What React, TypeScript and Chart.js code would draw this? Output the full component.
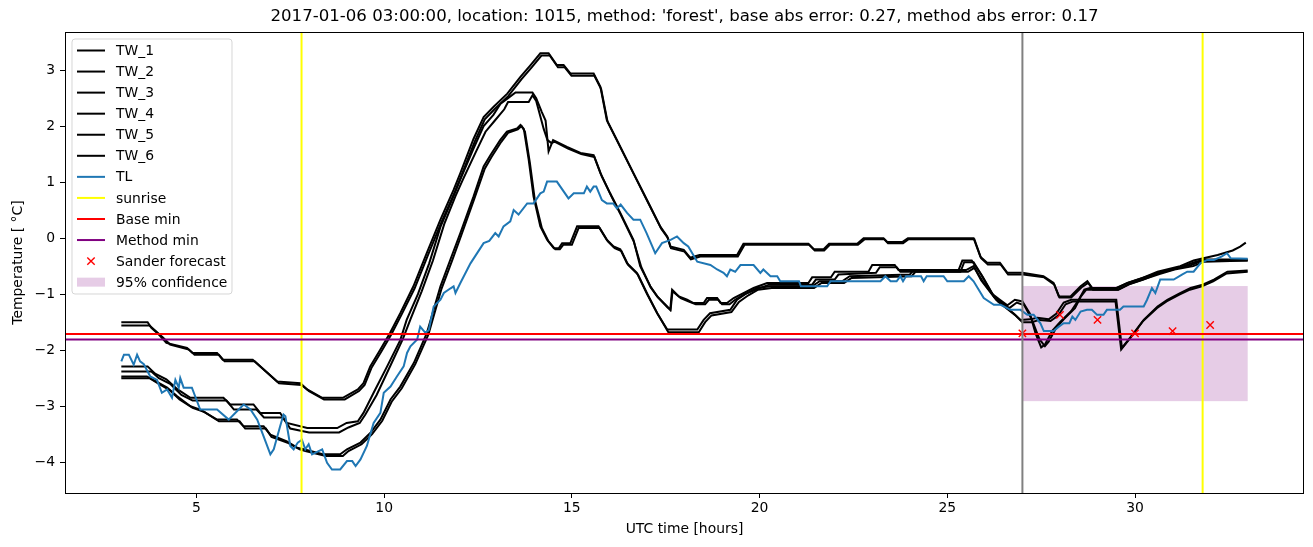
import React, { useEffect, useRef } from "react";
import { Chart, registerables } from "chart.js";

Chart.register(...registerables);

const TITLE =
  "2017-01-06 03:00:00, location: 1015, method: 'forest', base abs error: 0.27, method abs error: 0.17";
const X_LABEL = "UTC time [hours]";
const Y_LABEL = "Temperature [ °C]";
const X_TICKS = [5, 10, 15, 20, 25, 30];
const Y_TICKS = [-4, -3, -2, -1, 0, 1, 2, 3];
const X_RANGE = [1.5, 34.5];
const Y_RANGE = [-4.55, 3.68];

const TW_1: number[][] = [[3,-1.5],[3.7,-1.5],[3.8,-1.6],[4.0,-1.72],[4.2,-1.87],[4.75,-1.96],[4.9,-2.05],[5.55,-2.05],[5.7,-2.17],[6.5,-2.17],[6.7,-2.29],[7.15,-2.56],[7.77,-2.59],[7.95,-2.7],[8.35,-2.85],[8.9,-2.85],[9.3,-2.7],[9.45,-2.59],[9.63,-2.29],[9.9,-1.99],[10.16,-1.69],[10.43,-1.34],[10.78,-0.86],[11.14,-0.26],[11.5,0.33],[11.85,0.86],[12.03,1.16],[12.38,1.77],[12.65,2.16],[12.91,2.34],[13.28,2.58],[13.63,2.88],[13.9,3.09],[14.16,3.3],[14.38,3.3],[14.6,3.09],[14.78,3.09],[14.96,2.94],[15.58,2.94],[15.76,2.7],[15.93,2.11],[16.2,1.75],[16.64,1.16],[17.0,0.68],[17.36,0.2],[17.54,0.03],[17.62,-0.15],[17.98,-0.21],[18.15,-0.35],[18.4,-0.3],[19.4,-0.3],[19.57,-0.1],[21.3,-0.1],[21.45,-0.2],[21.7,-0.2],[21.85,-0.1],[22.6,-0.1],[22.77,0.0],[23.3,0.0],[23.4,-0.07],[23.8,-0.07],[23.95,0.0],[25.7,0.0],[25.88,-0.33],[26.06,-0.44],[26.4,-0.44],[26.6,-0.62],[27.0,-0.62],[27.56,-0.68],[27.83,-0.8],[27.97,-1.04],[28.28,-1.04],[28.55,-0.86],[28.73,-0.77],[28.86,-0.89],[29.53,-0.89],[29.8,-0.8],[30.2,-0.71],[30.6,-0.6],[31.2,-0.5],[31.56,-0.4],[32.2,-0.3],[32.6,-0.22],[32.8,-0.15],[32.95,-0.08]];
const TW_2: number[][] = [[3,-1.56],[3.75,-1.56],[3.9,-1.65],[4.1,-1.77],[4.3,-1.9],[4.8,-1.99],[4.95,-2.08],[5.6,-2.08],[5.75,-2.2],[6.55,-2.2],[6.75,-2.32],[7.2,-2.59],[7.8,-2.62],[8.0,-2.73],[8.4,-2.88],[8.95,-2.88],[9.33,-2.73],[9.48,-2.62],[9.66,-2.32],[9.93,-2.02],[10.19,-1.72],[10.46,-1.37],[10.81,-0.9],[11.17,-0.3],[11.53,0.29],[11.88,0.82],[12.06,1.12],[12.41,1.72],[12.68,2.12],[12.94,2.3],[13.31,2.54],[13.66,2.84],[13.93,3.05],[14.19,3.26],[14.41,3.26],[14.63,3.05],[14.81,3.05],[14.99,2.9],[15.6,2.9],[15.78,2.66],[15.95,2.08],[16.22,1.72],[16.66,1.13],[17.02,0.65],[17.38,0.17],[17.56,0.0],[17.64,-0.18],[18.0,-0.24],[18.17,-0.38],[18.42,-0.33],[19.42,-0.33],[19.6,-0.12],[21.32,-0.12],[21.47,-0.22],[21.72,-0.22],[21.87,-0.12],[22.62,-0.12],[22.8,-0.02],[23.32,-0.02],[23.42,-0.09],[23.82,-0.09],[23.97,-0.02],[25.72,-0.02],[25.9,-0.36],[26.08,-0.47],[26.42,-0.47],[26.62,-0.65],[27.02,-0.65],[27.58,-0.7],[27.85,-0.83],[27.99,-1.06],[28.3,-1.06],[28.57,-0.88],[28.75,-0.8],[28.88,-0.92],[29.55,-0.92],[29.82,-0.83],[30.22,-0.74],[30.62,-0.63],[31.22,-0.52],[31.58,-0.43],[31.85,-0.38],[33,-0.38]];
const TW_3: number[][] = [[3,-2.29],[3.7,-2.29],[3.9,-2.42],[4.2,-2.52],[4.5,-2.7],[4.84,-2.85],[5.72,-2.85],[5.9,-2.97],[6.52,-2.97],[6.7,-3.12],[7.23,-3.12],[7.41,-3.3],[7.95,-3.39],[8.75,-3.39],[9.0,-3.3],[9.3,-3.27],[9.45,-3.12],[9.72,-2.76],[10.08,-2.29],[10.43,-1.82],[10.6,-1.46],[10.9,-1.0],[11.2,-0.45],[11.5,0.2],[11.85,0.75],[12.03,1.05],[12.38,1.6],[12.65,2.0],[12.91,2.2],[13.1,2.4],[13.3,2.5],[13.5,2.6],[13.95,2.6],[14.05,2.5],[14.2,2.25],[14.3,2.1],[14.38,1.55],[14.5,1.75],[14.87,1.63],[15.23,1.52],[15.58,1.48],[15.76,1.16],[16.02,0.8],[16.29,0.45],[16.64,-0.03],[16.82,-0.5],[17.09,-0.86],[17.27,-1.04],[17.54,-1.22],[17.62,-1.28],[17.67,-0.92],[17.85,-1.04],[18.07,-1.1],[18.24,-1.16],[18.51,-1.16],[18.6,-1.07],[18.87,-1.07],[18.96,-1.16],[19.13,-1.16],[19.31,-1.07],[19.57,-0.98],[19.84,-0.89],[20.2,-0.8],[21.3,-0.8],[21.4,-0.7],[21.9,-0.7],[22.0,-0.6],[22.9,-0.6],[23.0,-0.48],[23.6,-0.48],[23.7,-0.57],[25.3,-0.57],[25.4,-0.4],[25.65,-0.4],[25.9,-0.65],[26.2,-1.0],[26.4,-1.1],[26.6,-1.2],[26.8,-1.1],[27.0,-1.13],[27.2,-1.35],[27.35,-1.7],[27.5,-1.95],[27.6,-1.9],[27.8,-1.65],[28.0,-1.5],[28.3,-1.3],[28.5,-1.1],[28.65,-0.92],[28.8,-0.89],[29.5,-0.89],[29.8,-0.8],[30.2,-0.71],[30.6,-0.62],[31.0,-0.55],[31.5,-0.48],[31.8,-0.4],[33,-0.4]];
const TW_4: number[][] = [[3,-2.38],[3.8,-2.38],[4.0,-2.5],[4.3,-2.6],[4.6,-2.8],[4.9,-2.9],[5.8,-2.9],[6.0,-3.06],[6.6,-3.06],[6.8,-3.2],[7.3,-3.2],[7.5,-3.4],[8.0,-3.47],[8.8,-3.47],[9.05,-3.38],[9.35,-3.3],[9.5,-3.15],[9.8,-2.8],[10.15,-2.3],[10.5,-1.8],[10.7,-1.45],[11.0,-0.95],[11.3,-0.4],[11.6,0.25],[11.9,0.75],[12.1,1.05],[12.45,1.55],[12.7,1.9],[12.95,2.1],[13.2,2.3],[13.3,2.43],[13.85,2.43],[13.95,2.55],[14.05,2.45],[14.25,1.95],[14.35,1.75],[14.45,1.7],[14.55,1.72],[14.9,1.6],[15.25,1.5],[15.6,1.45],[15.8,1.1],[16.05,0.75],[16.3,0.42],[16.65,-0.06],[16.85,-0.52],[17.1,-0.88],[17.3,-1.06],[17.55,-1.24],[17.63,-1.28],[17.68,-0.95],[17.9,-1.07],[18.1,-1.13],[18.3,-1.18],[18.55,-1.18],[18.65,-1.1],[18.9,-1.1],[19.0,-1.18],[19.2,-1.18],[19.35,-1.1],[19.6,-1.0],[19.9,-0.92],[20.25,-0.83],[21.4,-0.83],[21.5,-0.74],[22.0,-0.74],[22.1,-0.65],[23.1,-0.62],[23.2,-0.52],[23.65,-0.52],[23.75,-0.6],[25.35,-0.6],[25.45,-0.43],[25.7,-0.43],[25.95,-0.7],[26.25,-1.05],[26.45,-1.15],[26.65,-1.25],[26.85,-1.15],[27.05,-1.2],[27.25,-1.45],[27.45,-1.8],[27.6,-1.93],[27.7,-1.85],[27.9,-1.6],[28.1,-1.45],[28.4,-1.25],[28.55,-1.05],[28.7,-0.92],[28.85,-0.92],[29.55,-0.92],[29.85,-0.82],[30.25,-0.73],[30.65,-0.64],[31.05,-0.56],[31.55,-0.5],[31.85,-0.42],[33,-0.4]];
const TW_5: number[][] = [[3,-2.47],[3.68,-2.47],[3.9,-2.55],[4.22,-2.67],[4.48,-2.82],[4.84,-3.0],[5.1,-3.06],[5.55,-3.24],[6.08,-3.24],[6.26,-3.36],[6.79,-3.36],[6.97,-3.51],[7.41,-3.63],[7.68,-3.74],[7.86,-3.77],[8.39,-3.86],[8.83,-3.86],[9.01,-3.77],[9.37,-3.65],[9.63,-3.48],[9.9,-3.24],[10.17,-2.88],[10.43,-2.65],[10.79,-2.23],[11.14,-1.69],[11.5,-0.86],[11.76,-0.39],[12.03,0.09],[12.38,0.74],[12.65,1.28],[12.83,1.48],[13.09,1.75],[13.27,1.9],[13.54,1.96],[13.63,2.02],[13.72,1.95],[13.85,1.4],[13.98,0.74],[14.16,0.21],[14.34,-0.03],[14.52,-0.18],[14.65,-0.18],[14.74,-0.09],[14.96,-0.09],[15.14,0.21],[15.71,0.21],[15.93,-0.03],[16.11,-0.15],[16.29,-0.2],[16.47,-0.45],[16.73,-0.62],[16.99,-0.98],[17.27,-1.34],[17.54,-1.63],[18.34,-1.63],[18.51,-1.46],[18.68,-1.34],[19.22,-1.28],[19.4,-1.1],[19.67,-0.98],[19.93,-0.89],[20.29,-0.86],[21.4,-0.86],[21.6,-0.77],[22.2,-0.77],[22.4,-0.68],[24.0,-0.65],[24.1,-0.57],[25.5,-0.57],[25.7,-0.5],[25.9,-0.75],[26.3,-1.1],[26.76,-1.34],[26.95,-1.46],[27.2,-1.45],[27.4,-1.42],[27.7,-1.45],[27.9,-1.35],[28.1,-1.15],[28.3,-1.1],[29.5,-1.1],[29.65,-1.96],[29.97,-1.69],[30.23,-1.46],[30.6,-1.22],[30.86,-1.1],[31.2,-0.98],[31.48,-0.89],[31.8,-0.83],[32.1,-0.74],[32.46,-0.6],[33,-0.58]];
const TW_6: number[][] = [[3,-2.5],[3.75,-2.5],[4.0,-2.6],[4.3,-2.72],[4.55,-2.88],[4.9,-3.03],[5.2,-3.1],[5.6,-3.27],[6.15,-3.27],[6.3,-3.4],[6.85,-3.4],[7.0,-3.55],[7.45,-3.66],[7.75,-3.77],[7.9,-3.8],[8.45,-3.89],[8.9,-3.89],[9.05,-3.8],[9.4,-3.68],[9.68,-3.5],[9.95,-3.26],[10.2,-2.92],[10.47,-2.68],[10.83,-2.25],[11.18,-1.72],[11.53,-0.9],[11.8,-0.42],[12.06,0.06],[12.4,0.7],[12.68,1.24],[12.86,1.45],[13.12,1.72],[13.3,1.88],[13.56,1.94],[13.66,2.0],[13.75,1.9],[13.88,1.35],[14.01,0.7],[14.2,0.18],[14.38,-0.06],[14.56,-0.2],[14.68,-0.2],[14.77,-0.12],[15.0,-0.12],[15.18,0.18],[15.74,0.18],[15.96,-0.06],[16.14,-0.18],[16.32,-0.23],[16.5,-0.48],[16.76,-0.65],[17.02,-1.01],[17.3,-1.37],[17.57,-1.68],[18.38,-1.68],[18.55,-1.5],[18.72,-1.38],[19.25,-1.32],[19.45,-1.14],[19.7,-1.02],[19.96,-0.92],[20.32,-0.89],[21.45,-0.89],[21.65,-0.8],[22.25,-0.8],[22.45,-0.71],[24.05,-0.68],[24.15,-0.6],[25.55,-0.6],[25.72,-0.53],[25.95,-0.78],[26.35,-1.13],[26.8,-1.37],[27.0,-1.5],[27.25,-1.5],[27.45,-1.46],[27.75,-1.48],[27.95,-1.38],[28.15,-1.18],[28.35,-1.13],[29.48,-1.13],[29.63,-1.99],[29.95,-1.72],[30.2,-1.49],[30.58,-1.25],[30.84,-1.13],[31.18,-1.01],[31.46,-0.92],[31.78,-0.86],[32.08,-0.77],[32.44,-0.63],[33,-0.6]];
const TL: number[][] = [[3,-2.2],[3.07,-2.08],[3.2,-2.08],[3.33,-2.26],[3.42,-2.08],[3.5,-2.2],[3.6,-2.25],[3.77,-2.47],[3.95,-2.53],[4.08,-2.76],[4.22,-2.7],[4.35,-2.85],[4.44,-2.53],[4.53,-2.67],[4.57,-2.5],[4.66,-2.67],[4.88,-2.67],[5.1,-3.06],[5.55,-3.06],[5.86,-3.24],[6.08,-3.09],[6.26,-2.97],[6.44,-3.06],[6.62,-3.24],[6.79,-3.54],[6.97,-3.86],[7.06,-3.77],[7.23,-3.36],[7.32,-3.15],[7.37,-3.18],[7.5,-3.71],[7.59,-3.77],[7.7,-3.65],[7.81,-3.6],[7.9,-3.77],[7.99,-3.68],[8.08,-3.86],[8.35,-3.77],[8.48,-4.01],[8.61,-4.13],[8.83,-4.13],[9.01,-3.98],[9.15,-3.98],[9.24,-4.07],[9.37,-3.95],[9.54,-3.71],[9.72,-3.3],[9.9,-3.12],[9.99,-2.76],[10.17,-2.65],[10.34,-2.47],[10.52,-2.29],[10.61,-2.05],[10.7,-1.93],[10.88,-1.81],[10.96,-1.58],[11.1,-1.69],[11.19,-1.64],[11.32,-1.22],[11.41,-1.16],[11.5,-1.1],[11.59,-0.98],[11.76,-0.9],[11.85,-0.86],[11.9,-0.98],[12.03,-0.8],[12.3,-0.45],[12.65,-0.09],[12.8,-0.05],[12.96,0.09],[13.05,0.03],[13.18,0.21],[13.36,0.3],[13.45,0.5],[13.58,0.42],[13.81,0.62],[13.98,0.62],[14.16,0.8],[14.25,0.83],[14.34,1.01],[14.6,1.01],[14.91,0.71],[15.05,0.8],[15.32,0.8],[15.4,0.92],[15.49,0.83],[15.58,0.92],[15.65,0.92],[15.8,0.68],[15.93,0.62],[16.1,0.62],[16.2,0.53],[16.3,0.6],[16.47,0.45],[16.64,0.33],[16.82,0.33],[16.99,0.09],[17.22,-0.27],[17.4,-0.09],[17.63,-0.03],[17.8,0.03],[17.98,-0.09],[18.1,-0.15],[18.34,-0.42],[18.69,-0.48],[18.87,-0.56],[19.04,-0.62],[19.13,-0.68],[19.22,-0.56],[19.35,-0.6],[19.49,-0.48],[19.84,-0.48],[20.02,-0.62],[20.1,-0.56],[20.29,-0.68],[20.47,-0.68],[20.55,-0.77],[21.05,-0.77],[21.1,-0.86],[21.8,-0.86],[21.89,-0.77],[23.22,-0.77],[23.35,-0.68],[23.49,-0.77],[23.65,-0.77],[23.75,-0.68],[23.82,-0.77],[23.9,-0.68],[24.3,-0.68],[24.37,-0.77],[24.45,-0.68],[24.9,-0.68],[25.0,-0.77],[25.44,-0.77],[25.57,-0.68],[25.7,-0.77],[25.97,-1.07],[26.24,-1.19],[26.42,-1.19],[26.68,-1.28],[26.95,-1.28],[27.13,-1.37],[27.3,-1.37],[27.48,-1.52],[27.57,-1.66],[27.83,-1.66],[27.97,-1.58],[28.1,-1.52],[28.25,-1.52],[28.33,-1.4],[28.41,-1.46],[28.55,-1.31],[28.72,-1.28],[28.85,-1.28],[28.99,-1.37],[29.16,-1.37],[29.25,-1.28],[29.6,-1.28],[29.69,-1.22],[30.23,-1.22],[30.32,-1.1],[30.45,-0.89],[30.54,-0.98],[30.67,-0.74],[31.03,-0.74],[31.25,-0.65],[31.39,-0.6],[31.56,-0.6],[31.74,-0.45],[31.92,-0.39],[32.1,-0.39],[32.3,-0.33],[32.45,-0.27],[32.55,-0.36],[33,-0.37]];

const SUNRISE = [7.8, 31.8];
const BASE_MIN = -1.71;
const METHOD_MIN = -1.81;
const FORECAST_START = 27;
const SANDER_X = [27, 28, 29, 30, 31, 32];
const SANDER_Y = [-1.7, -1.37, -1.46, -1.7, -1.66, -1.55];
const CONF_X = [27, 33];
const CONF_Y = [-2.91, -0.855];

const TW_SERIES = [
  { label: "TW_1", data: TW_1 },
  { label: "TW_2", data: TW_2 },
  { label: "TW_3", data: TW_3 },
  { label: "TW_4", data: TW_4 },
  { label: "TW_5", data: TW_5 },
  { label: "TW_6", data: TW_6 },
];

const FONT = "'DejaVu Sans', sans-serif";
const FS = 13.9;
const TITLE_FS = 16.6;
const PINK = "rgba(128,0,128,0.2)";

const toPts = (arr: number[][]) => arr.map(([x, y]) => ({ x, y }));
const fmt = (v: number) => (v < 0 ? "\u2212" + Math.abs(v) : String(v));

const bgPlugin = {
  id: "bg",
  beforeDatasetsDraw(chart: any) {
    const { ctx, chartArea, scales } = chart;
    const x0 = scales.x.getPixelForValue(CONF_X[0]);
    const x1 = scales.x.getPixelForValue(CONF_X[1]);
    const y0 = scales.y.getPixelForValue(CONF_Y[1]);
    const y1 = scales.y.getPixelForValue(CONF_Y[0]);
    ctx.save();
    ctx.beginPath();
    ctx.rect(chartArea.left, chartArea.top, chartArea.width, chartArea.height);
    ctx.clip();
    ctx.fillStyle = PINK;
    ctx.fillRect(x0, y0, x1 - x0, y1 - y0);
    ctx.restore();
  },
};

const frameLegendPlugin = {
  id: "frameLegend",
  afterDatasetsDraw(chart: any) {
    const { ctx, chartArea } = chart;
    ctx.save();
    ctx.strokeStyle = "#000";
    ctx.lineWidth = 1;
    ctx.strokeRect(
      Math.round(chartArea.left) + 0.5,
      Math.round(chartArea.top) + 0.5,
      Math.round(chartArea.width) - 1,
      Math.round(chartArea.height)
    );
    // title, centred over the plot area
    ctx.font = `${TITLE_FS}px ${FONT}`;
    ctx.fillStyle = "#000";
    ctx.textAlign = "center";
    ctx.textBaseline = "middle";
    ctx.fillText(TITLE, (chartArea.left + chartArea.right) / 2, chartArea.top - 15);

    // legend
    const bx = chartArea.left + 7;
    const by = chartArea.top + 7;
    const bw = 160;
    const bh = 255;
    const r = 3;
    ctx.beginPath();
    ctx.moveTo(bx + r, by);
    ctx.lineTo(bx + bw - r, by);
    ctx.quadraticCurveTo(bx + bw, by, bx + bw, by + r);
    ctx.lineTo(bx + bw, by + bh - r);
    ctx.quadraticCurveTo(bx + bw, by + bh, bx + bw - r, by + bh);
    ctx.lineTo(bx + r, by + bh);
    ctx.quadraticCurveTo(bx, by + bh, bx, by + bh - r);
    ctx.lineTo(bx, by + r);
    ctx.quadraticCurveTo(bx, by, bx + r, by);
    ctx.closePath();
    ctx.fillStyle = "rgba(255,255,255,0.8)";
    ctx.fill();
    ctx.strokeStyle = "rgba(204,204,204,0.8)";
    ctx.lineWidth = 1;
    ctx.stroke();

    const items: { label: string; kind: string; color: string }[] = [
      ...TW_SERIES.map((s) => ({ label: s.label, kind: "line", color: "#000" })),
      { label: "TL", kind: "line", color: "#1f77b4" },
      { label: "sunrise", kind: "line", color: "#ffff00" },
      { label: "Base min", kind: "line", color: "#ff0000" },
      { label: "Method min", kind: "line", color: "#800080" },
      { label: "Sander forecast", kind: "x", color: "#ff0000" },
      { label: "95% confidence", kind: "patch", color: PINK },
    ];
    const hx0 = bx + 5;
    const hx1 = bx + 33;
    ctx.font = `${FS}px ${FONT}`;
    ctx.textBaseline = "middle";
    ctx.textAlign = "left";
    items.forEach((it, i) => {
      const cy = by + 11.5 + i * 21.06;
      if (it.kind === "line") {
        ctx.strokeStyle = it.color;
        ctx.lineWidth = 2;
        ctx.beginPath();
        ctx.moveTo(hx0, cy);
        ctx.lineTo(hx1, cy);
        ctx.stroke();
      } else if (it.kind === "x") {
        const cx = (hx0 + hx1) / 2;
        const d = 3.7;
        ctx.strokeStyle = it.color;
        ctx.lineWidth = 1.4;
        ctx.beginPath();
        ctx.moveTo(cx - d, cy - d);
        ctx.lineTo(cx + d, cy + d);
        ctx.moveTo(cx - d, cy + d);
        ctx.lineTo(cx + d, cy - d);
        ctx.stroke();
      } else {
        ctx.fillStyle = it.color;
        ctx.fillRect(hx0, cy - 4.5, hx1 - hx0, 9);
      }
      ctx.fillStyle = "#000";
      ctx.fillText(it.label, bx + 44, cy + 1);
    });
    ctx.restore();
  },
};

export default function App() {
  const ref = useRef<HTMLCanvasElement | null>(null);

  useEffect(() => {
    if (!ref.current) return;
    Chart.defaults.font.family = FONT;
    Chart.defaults.color = "#000";

    const lineBase = {
      type: "line" as const,
      pointRadius: 0,
      pointHoverRadius: 0,
      borderWidth: 2,
      tension: 0,
      fill: false,
    };

    const datasets: any[] = [];
    TW_SERIES.forEach((s) =>
      datasets.push({ ...lineBase, label: s.label, data: toPts(s.data), borderColor: "#000" })
    );
    datasets.push({ ...lineBase, label: "TL", data: toPts(TL), borderColor: "#1f77b4" });
    SUNRISE.forEach((sx, i) =>
      datasets.push({
        ...lineBase,
        label: i === 0 ? "sunrise" : "_sunrise",
        data: [
          { x: sx, y: Y_RANGE[0] },
          { x: sx, y: Y_RANGE[1] },
        ],
        borderColor: "#ffff00",
      })
    );
    datasets.push({
      ...lineBase,
      label: "Base min",
      data: [
        { x: X_RANGE[0], y: BASE_MIN },
        { x: X_RANGE[1], y: BASE_MIN },
      ],
      borderColor: "#ff0000",
    });
    datasets.push({
      ...lineBase,
      label: "Method min",
      data: [
        { x: X_RANGE[0], y: METHOD_MIN },
        { x: X_RANGE[1], y: METHOD_MIN },
      ],
      borderColor: "#800080",
    });
    datasets.push({
      type: "line",
      label: "Sander forecast",
      data: SANDER_X.map((x, i) => ({ x, y: SANDER_Y[i] })),
      showLine: false,
      pointStyle: "crossRot",
      pointRadius: 5.2,
      pointHoverRadius: 5.2,
      pointBorderWidth: 1.4,
      borderColor: "#ff0000",
      pointBorderColor: "#ff0000",
      backgroundColor: "#ff0000",
    });
    datasets.push({
      ...lineBase,
      label: "forecast start",
      data: [
        { x: FORECAST_START, y: Y_RANGE[0] },
        { x: FORECAST_START, y: Y_RANGE[1] },
      ],
      borderColor: "#808080",
    });
    const n = datasets.length;
    datasets.forEach((d, i) => (d.order = n - i));

    const chart = new Chart(ref.current, {
      type: "line",
      data: { datasets },
      plugins: [bgPlugin, frameLegendPlugin],
      options: {
        animation: false,
        responsive: true,
        maintainAspectRatio: false,
        devicePixelRatio: 1,
        layout: { padding: { left: 0, right: 9, top: 32, bottom: 0 } },
        plugins: {
          legend: { display: false },
          tooltip: { enabled: false },
          title: { display: false },
        },
        scales: {
          x: {
            type: "linear",
            min: X_RANGE[0],
            max: X_RANGE[1],
            afterBuildTicks: (s: any) => {
              s.ticks = X_TICKS.map((v) => ({ value: v }));
            },
            afterFit: (s: any) => {
              s.height = 54;
            },
            ticks: {
              autoSkip: false,
              maxRotation: 0,
              padding: 2,
              color: "#000",
              font: { size: FS, family: FONT },
              callback: (v: any) => fmt(Number(v)),
            },
            grid: {
              drawOnChartArea: false,
              drawTicks: true,
              tickLength: 5,
              tickColor: "#000",
              tickWidth: 1,
            },
            border: { display: false },
            title: {
              display: true,
              text: X_LABEL,
              color: "#000",
              font: { size: FS, family: FONT },
              padding: { top: 0, bottom: 9.7 },
            },
          },
          y: {
            type: "linear",
            min: Y_RANGE[0],
            max: Y_RANGE[1],
            afterBuildTicks: (s: any) => {
              s.ticks = Y_TICKS.map((v) => ({ value: v }));
            },
            afterFit: (s: any) => {
              s.width = 65;
            },
            ticks: {
              autoSkip: false,
              padding: 5,
              color: "#000",
              font: { size: FS, family: FONT },
              callback: (v: any) => fmt(Number(v)),
            },
            grid: {
              drawOnChartArea: false,
              drawTicks: true,
              tickLength: 5,
              tickColor: "#000",
              tickWidth: 1,
            },
            border: { display: false },
            title: {
              display: true,
              text: Y_LABEL,
              color: "#000",
              font: { size: FS, family: FONT },
              padding: { top: 10, bottom: 0 },
            },
          },
        },
      },
    } as any);
    return () => chart.destroy();
  }, []);

  return (
    <div style={{ position: "absolute", left: 0, top: 0, width: 1313, height: 547, background: "#fff" }}>
      <canvas ref={ref} />
    </div>
  );
}
